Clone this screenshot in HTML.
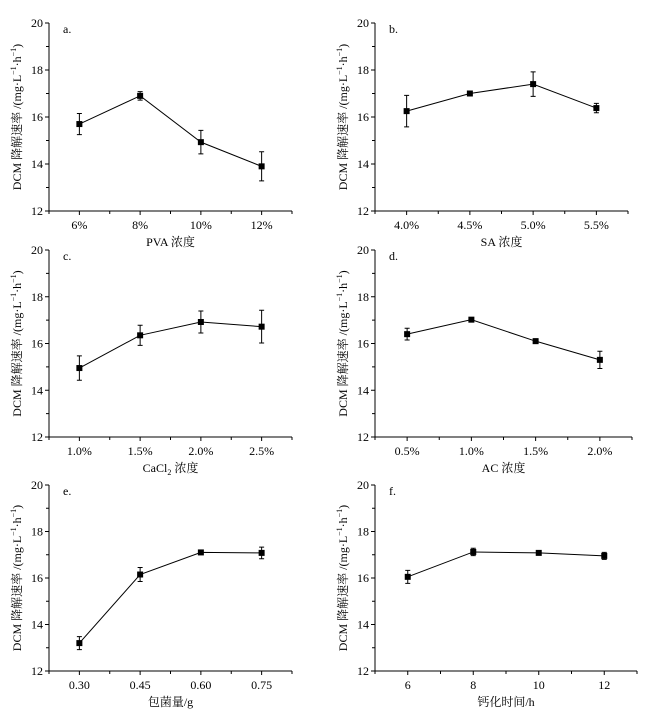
<!DOCTYPE html>
<html><head><meta charset="utf-8"><style>
body{margin:0;background:#fff;}
svg{display:block;font-family:"Liberation Serif","Noto Serif CJK SC",serif;}
</style></head><body>
<svg id="chart" width="653" height="713" viewBox="0 0 653 713" xmlns="http://www.w3.org/2000/svg"></svg>
<script>
const catsA=["6%","8%","10%","12%"];
const valsA=[15.7,16.9,14.93,13.9];
const errA=[0.45,0.18,0.5,0.62];
const catsB=["4.0%","4.5%","5.0%","5.5%"];
const valsB=[16.25,17.0,17.4,16.38];
const errB=[0.67,0.03,0.52,0.2];
const catsC=["1.0%","1.5%","2.0%","2.5%"];
const valsC=[14.95,16.35,16.92,16.72];
const errC=[0.52,0.43,0.47,0.7];
const catsD=["0.5%","1.0%","1.5%","2.0%"];
const valsD=[16.4,17.02,16.1,15.3];
const errD=[0.25,0.03,0.1,0.37];
const catsE=["0.30","0.45","0.60","0.75"];
const valsE=[13.2,16.15,17.1,17.08];
const errE=[0.28,0.3,0.05,0.25];
const catsF=["6","8","10","12"];
const valsF=[16.05,17.12,17.08,16.95];
const errF=[0.28,0.16,0.05,0.15];
const yTicks=[12,14,16,18,20];

const svg=document.getElementById('chart');
const NS="http://www.w3.org/2000/svg";
function mk(tag,attrs,parent,text){const e=document.createElementNS(NS,tag);for(const k in attrs)e.setAttribute(k,attrs[k]);if(text!==undefined)e.textContent=text;parent.appendChild(e);return e;}

function panel(id,letter,x0,x1,y20,y12,cats,vals,errs,xtitle,sub){
  const g=mk('g',{},svg);
  
  
  const n=cats.length;
  const xs=i=>x0+(i+0.5)*(x1-x0)/n;
  const ys=v=>y12+(v-12)*(y20-y12)/8;
  const st={stroke:'#000','stroke-width':1,fill:'none'};
  const ax=mk('path',Object.assign({d:`M${x0},${y20}V${y12}H${x1}`},st),g);
  
  
  for(let v=12;v<=20;v++){const y=ys(v);mk('line',Object.assign({x1:x0,x2:x0-(v%2===0?4:3),y1:y,y2:y},st),g);}
  yTicks.forEach(v=>{const t=mk('text',{x:x0-6,y:ys(v)+4,'text-anchor':'end','font-size':12},g,String(v));
    
    });
  for(let k=0;k<=2*n;k++){const x=x0+k*(x1-x0)/(2*n);mk('line',Object.assign({x1:x,x2:x,y1:y12,y2:y12+(k%2===1?4:3)},st),g);}
  cats.forEach((c,i)=>{const t=mk('text',{x:xs(i),y:y12+18,'text-anchor':'middle','font-size':12},g,c);
    
    });
  const xt=mk('text',{x:(x0+x1)/2,y:y12+35,'text-anchor':'middle','font-size':12},g);
  
  
  if(sub){xt.textContent='CaCl';mk('tspan',{'font-size':8,dy:3},xt,'2');mk('tspan',{dy:-3},xt,' 浓度');}
  else xt.textContent=xtitle;
  const cy=(y20+y12)/2, tx=x0-28;
  const yt=mk('text',{x:tx,y:cy,'text-anchor':'middle','font-size':12,transform:`rotate(-90 ${tx} ${cy})`},g);
  
  
  yt.textContent='DCM 降解速率 /(mg·L';
  mk('tspan',{'font-size':8,dy:-5},yt,'−1');mk('tspan',{dy:5},yt,'·h');mk('tspan',{'font-size':8,dy:-5},yt,'−1');mk('tspan',{dy:5},yt,')');
  const lt=mk('text',{x:x0+14,y:y20+10,'font-size':12},g,letter);
  
  
  const line=mk('polyline',{points:vals.map((v,i)=>xs(i)+','+ys(v)).join(' '),stroke:'#000','stroke-width':1,fill:'none'},g);
  
  
  vals.forEach((v,i)=>{
    const x=xs(i),yh=ys(v+errs[i]),yl=ys(v-errs[i]);
    const eb=mk('path',{d:`M${x},${yh}V${yl}M${x-2.5},${yh}H${x+2.5}M${x-2.5},${yl}H${x+2.5}`,stroke:'#000','stroke-width':1,fill:'none'},g);
    
    
    const p=mk('rect',{x:x-3,y:ys(v)-3,width:6,height:6,fill:'#000'},g);
    
    
  });
}
panel('a','a.',49,292,23,211,catsA,valsA,errA,'PVA 浓度');
panel('b','b.',375,628,23,211,catsB,valsB,errB,'SA 浓度');
panel('c','c.',49,292,250,437,catsC,valsC,errC,'',true);
panel('d','d.',375,632,250,437,catsD,valsD,errD,'AC 浓度');
panel('e','e.',49,292,485,671,catsE,valsE,errE,'包菌量/g');
panel('f','f.',375,637,485,671,catsF,valsF,errF,'钙化时间/h');
</script>
</body></html>
